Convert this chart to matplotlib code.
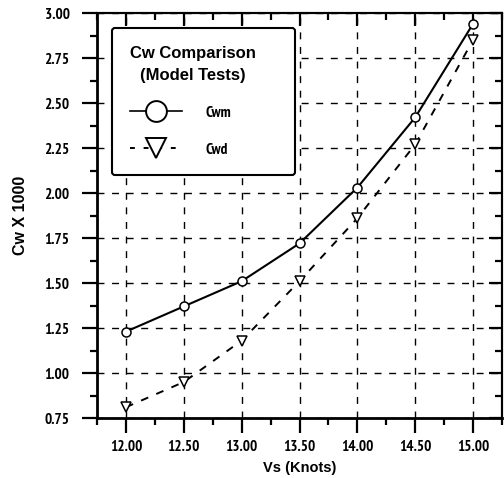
import matplotlib
matplotlib.use("Agg")
import matplotlib.pyplot as plt
from matplotlib.lines import Line2D
from matplotlib.ticker import MultipleLocator, FormatStrFormatter

WIDE = ['Liberation Sans', 'DejaVu Sans']
NARROW = ['PT Sans Narrow', 'Roboto Condensed', 'Liberation Sans', 'DejaVu Sans']
plt.rcParams['font.family'] = WIDE
plt.rcParams['font.weight'] = 'bold'

speed = [12.0, 12.5, 13.0, 13.5, 14.0, 14.5, 15.0]
cwm = [1.23, 1.37, 1.51, 1.72, 2.03, 2.42, 2.94]
cwd = [0.81, 0.95, 1.18, 1.51, 1.86, 2.27, 2.85]
legend_title = "Cw Comparison\n(Model Tests)"
series_names = ["Cwm", "Cwd"]
x_label = "Vs (Knots)"
y_label = "Cw X 1000"

fig = plt.figure(figsize=(5.04, 4.78), dpi=100)
ax = fig.add_axes([0.1925, 0.1255, 0.8035, 0.8473])

ax.plot(speed, cwm, color='black', lw=1.5, ls='-', marker='o', ms=6.5,
        mfc='white', mec='black', mew=1.1, zorder=3)
ax.plot(speed, cwd, color='black', lw=1.4, ls=(0, (4, 4.5)), marker='v', ms=7,
        mfc='white', mec='black', mew=1.1, zorder=3)

ax.set_xlim(11.75, 15.25)
ax.set_ylim(0.75, 3.00)
ax.xaxis.set_major_locator(MultipleLocator(0.5))
ax.xaxis.set_minor_locator(MultipleLocator(0.25))
ax.yaxis.set_major_locator(MultipleLocator(0.25))
ax.yaxis.set_minor_locator(MultipleLocator(0.125))
ax.xaxis.set_major_formatter(FormatStrFormatter('%.2f'))
ax.yaxis.set_major_formatter(FormatStrFormatter('%.2f'))

ax.grid(True, which='major', color='black', ls=(0, (5, 5.5)), lw=1.0)

for s in ['left', 'bottom']:
    ax.spines[s].set_linewidth(2.0)
for s in ['top', 'right']:
    ax.spines[s].set_linewidth(1.5)

ax.tick_params(axis='x', which='major', direction='out', length=10.8, width=1.6,
               labelsize=11, pad=5, top=False, labelfontfamily=NARROW)
ax.tick_params(axis='x', which='minor', direction='out', length=5, width=1.6, top=False)
ax.tick_params(axis='y', which='major', direction='out', length=10.8, width=1.6,
               labelsize=11, pad=9, right=False, labelfontfamily=NARROW)
ax.tick_params(axis='y', which='minor', direction='out', length=5, width=1.6, right=False)

axt = ax.secondary_xaxis('top')
axt.xaxis.set_major_locator(MultipleLocator(0.5))
axt.xaxis.set_minor_locator(MultipleLocator(0.25))
axt.tick_params(which='major', direction='in', length=9.4, width=1.6, labeltop=False)
axt.tick_params(which='minor', direction='in', length=5, width=1.6)
axt.spines['top'].set_linewidth(1.5)
axr = ax.secondary_yaxis('right')
axr.yaxis.set_major_locator(MultipleLocator(0.25))
axr.yaxis.set_minor_locator(MultipleLocator(0.125))
axr.tick_params(which='major', direction='in', length=9.4, width=1.6, labelright=False)
axr.tick_params(which='minor', direction='in', length=5, width=1.6)
axr.spines['right'].set_linewidth(1.5)

ax.set_xlabel(x_label, fontsize=10.5, fontweight='bold', labelpad=5)
ax.set_ylabel(y_label, fontsize=11.5, fontweight='bold', labelpad=12)

handles = [
    Line2D([], [], color='black', lw=1.2, ls='-', marker='o', ms=15,
           mfc='white', mec='black', mew=1.4),
    Line2D([], [], color='black', lw=1.4, ls=(0, (2.5, 4.5)), marker='v', ms=15,
           mfc='white', mec='black', mew=1.4),
]
leg = ax.legend(handles, series_names, title=legend_title, loc='upper left',
                bbox_to_anchor=(0.037, 0.0, 0.452, 0.963), mode='expand',
                borderaxespad=0, fancybox=True, framealpha=1, edgecolor='black',
                prop=dict(family=NARROW, weight='bold', size=11),
                title_fontproperties=dict(family=WIDE, weight='bold', size=12),
                alignment='left', handlelength=3.35, labelspacing=1.5,
                borderpad=1.2, handletextpad=1.6)
leg.get_frame().set_linewidth(1.5)
leg.get_title().set_multialignment('center')
leg.get_title().set_linespacing(1.55)
leg.set_zorder(5)

fig.savefig("out.png", dpi=100)
